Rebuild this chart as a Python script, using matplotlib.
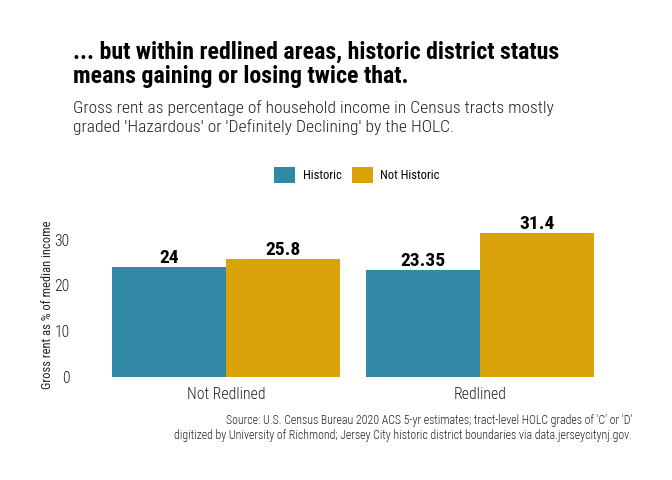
import matplotlib
matplotlib.use("Agg")
import matplotlib.pyplot as plt
from matplotlib.patches import Patch
import numpy as np

categories = ["Not Redlined", "Redlined"]
series_names = ["Historic", "Not Historic"]
historic = [24, 23.35]
not_historic = [25.8, 31.4]
value_labels_hist = ["24", "23.35"]
value_labels_not = ["25.8", "31.4"]
yticks = [0, 10, 20, 30]

title_lines = ["... but within redlined areas, historic district status",
               "means gaining or losing twice that."]
subtitle_lines = ["Gross rent as percentage of household income in Census tracts mostly",
                  "graded 'Hazardous' or 'Definitely Declining' by the HOLC."]
caption_lines = ["Source: U.S. Census Bureau 2020 ACS 5-yr estimates; tract-level HOLC grades of 'C' or 'D'",
                 "digitized by University of Richmond; Jersey City historic district boundaries via data.jerseycitynj.gov."]

colors = ["#3189A5", "#D9A309"]
FAM = "Roboto Condensed"

fig = plt.figure(figsize=(6.72, 4.8), dpi=100)
W, H = 672, 480
ax = fig.add_axes([74 / W, 1 - 384 / H, (632 - 74) / W, (384 - 226) / H])

x = np.arange(1, len(categories) + 1)
bw = 0.45
b1 = ax.bar(x - bw / 2, historic, width=bw, color=colors[0], linewidth=0)
b2 = ax.bar(x + bw / 2, not_historic, width=bw, color=colors[1], linewidth=0)

for bars, labs in ((b1, value_labels_hist), (b2, value_labels_not)):
    for rect, lab in zip(bars, labs):
        ax.text(rect.get_x() + rect.get_width() / 2, rect.get_height(), lab,
                ha="center", va="bottom", family=FAM, weight="bold",
                fontsize=14, color="black", clip_on=False)

ymax = max(not_historic + historic)
ax.set_ylim(-0.05 * ymax, 1.05 * ymax)
ax.set_xlim(0.4, len(categories) + 0.6)
ax.set_xticks(x)
ax.set_xticklabels(categories, family=FAM, weight="light", fontsize=11.3, color="#222222")
ax.set_yticks(yticks)
ax.set_yticklabels([str(t) for t in yticks], family=FAM, weight="light", fontsize=11.3, color="#222222")
ax.tick_params(length=0, pad=3)
ax.tick_params(axis="x", pad=2)
for s in ax.spines.values():
    s.set_visible(False)
ax.set_ylabel("Gross rent as % of median income", family=FAM, fontsize=9,
              weight="normal", color="#222222")
ax.yaxis.set_label_coords(-20 / (632 - 74), 0.5)

for line, yb in zip(title_lines, (59, 83)):
    fig.text(73 / W, 1 - yb / H, line, family=FAM, weight="bold", fontsize=17.2,
             color="black", va="baseline", ha="left")
for line, yb in zip(subtitle_lines, (113, 132)):
    fig.text(73 / W, 1 - yb / H, line, family=FAM, weight="light", fontsize=12.6,
             color="#222222", va="baseline", ha="left")
for line, yb in zip(caption_lines, (424, 439)):
    fig.text(632 / W, 1 - yb / H, line, family=FAM, weight="light", fontsize=8.6,
             color="#222222", va="baseline", ha="right")

handles = [Patch(facecolor=c, edgecolor="none") for c in colors]
leg = fig.legend(handles, series_names, loc="center", bbox_to_anchor=(357 / W, 1 - 175 / H),
                 ncol=2, frameon=False, handlelength=1.7, handleheight=1.7,
                 handletextpad=0.6, columnspacing=0.8,
                 prop={"family": FAM, "size": 9})

fig.savefig("out.png", dpi=100, facecolor="white")
